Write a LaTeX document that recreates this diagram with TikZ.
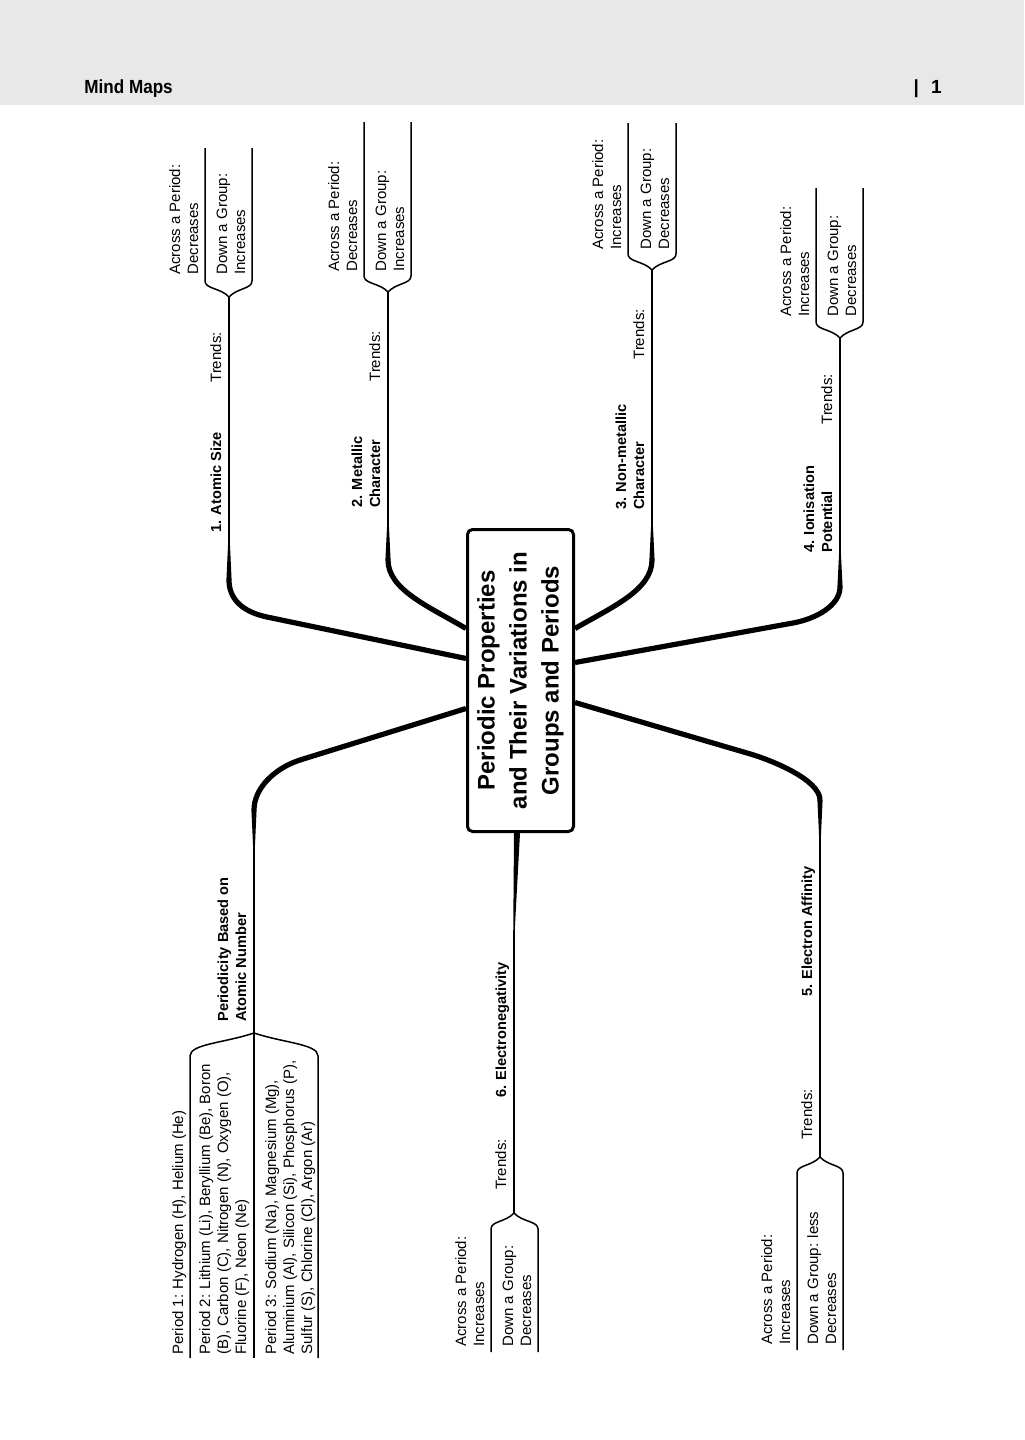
\documentclass[tikz,border=0pt]{standalone}
\usepackage{fontspec}
\usepackage{graphicx}
\setmainfont{Liberation Sans}
\usetikzlibrary{calc}
\definecolor{hdr}{RGB}{232,232,232}
\newcommand\taperv[3]{\fill ($(#1)+(-#3,0)$) -- ($(#2)+(-0.75,0)$) -- ($(#2)+(0.75,0)$) -- ($(#1)+(#3,0)$) -- cycle;}
\begin{document}
\begin{tikzpicture}[x=0.5pt,y=-0.5pt,
  thinl/.style={line width=0.75pt},
  thickl/.style={line width=2.6pt},
  txt/.style={rotate=90, anchor=base west, inner sep=0pt, align=left, font=\fontsize{7.5}{9}\selectfont},
  btxt/.style={txt, font=\fontsize{7.3}{9}\selectfont\bfseries},
  hdtxt/.style={inner sep=0pt, font=\fontsize{9.5}{11}\selectfont\bfseries}]
\useasboundingbox (0,0) rectangle (1024,1440);
% header
\fill[hdr] (0,0) rectangle (1024,105);
\node[hdtxt, anchor=base west] (hd) at (84,93) {\scalebox{0.9}[1]{Mind Maps}};
\node[hdtxt, anchor=base east] (pg) at (942,93) {|\hspace{6pt}1};
% central topic
\node[draw, line width=1.5pt, rounded corners=2.5pt, rotate=90, minimum width=151pt, minimum height=53pt,
  align=center, inner sep=0pt, font=\fontsize{12}{16}\selectfont\bfseries] (title) at (520.5,680.5)
  {Periodic Properties\\and Their Variations in\\Groups and Periods};
% anchor points on the box
\coordinate (b1a) at ($(title.north)+(0,-22)$);
\coordinate (b2a) at ($(title.north)+(0,-52)$);
\coordinate (bpa) at ($(title.north)+(0,28)$);
\coordinate (b3a) at ($(title.south)+(0,-52)$);
\coordinate (b4a) at ($(title.south)+(0,-18)$);
\coordinate (b5a) at ($(title.south)+(0,22)$);
\coordinate (b6a) at ($(title.west)+(-3.5,0)$);
% branch points
\coordinate (b1v) at (229,580); \coordinate (b1t) at (229,540); \coordinate (b1p) at (229,297);
\coordinate (b2v) at (388,560); \coordinate (b2t) at (388,522); \coordinate (b2p) at (388,292);
\coordinate (b3v) at (652,560); \coordinate (b3t) at (652,522); \coordinate (b3p) at (652,270);
\coordinate (b4v) at (840,587); \coordinate (b4t) at (840,550); \coordinate (b4p) at (840,338);
\coordinate (b5v) at (820,800); \coordinate (b5t) at (820,840); \coordinate (b5p) at (820,1157);
\coordinate (bpv) at (254,810); \coordinate (bpt) at (254,850); \coordinate (bpp) at (254,1033);
\coordinate (b6t) at (514,930); \coordinate (b6p) at (514,1213);
% main branches
\draw[thickl] (b1a) -- (267,617) .. controls (241,611.5) and (229,598) .. (b1v);
\taperv{b1v}{b1t}{2.6}
\draw[thinl] (b1t) -- (b1p);
\draw[thickl] (b2a) .. controls (430,607) and (388,590) .. (b2v);
\taperv{b2v}{b2t}{2.6}
\draw[thinl] (b2t) -- (b2p);
\draw[thickl] (b3a) .. controls (612,607) and (652,590) .. (b3v);
\taperv{b3v}{b3t}{2.6}
\draw[thinl] (b3t) -- (b3p);
\draw[thickl] (b4a) -- (793,623) .. controls (815,619) and (840,606) .. (b4v);
\taperv{b4v}{b4t}{2.6}
\draw[thinl] (b4t) -- (b4p);
\draw[thickl] (b5a) -- (747,753) .. controls (772,760) and (820,780) .. (b5v);
\taperv{b5v}{b5t}{2.6}
\draw[thinl] (b5t) -- (b5p);
\draw[thickl] (bpa) -- (300,760) .. controls (275,768) and (254,788) .. (bpv);
\taperv{bpv}{bpt}{2.6}
\draw[thinl] (bpt) -- (bpp);
\taperv{b6a}{b6t}{3}
\draw[thinl] (b6t) -- (b6p);
% brackets (top)
\draw[thinl] (b1p) .. controls +(-8,-9) and +(0,8) .. (205,281) -- (205,148);
\draw[thinl] (b1p) .. controls +(8,-9) and +(0,8) .. (252,281) -- (252,148);
\draw[thinl] (b2p) .. controls +(-8,-9) and +(0,8) .. (364,276) -- (364,122);
\draw[thinl] (b2p) .. controls +(8,-9) and +(0,8) .. (411,276) -- (411,122);
\draw[thinl] (b3p) .. controls +(-8,-9) and +(0,8) .. (628,254) -- (628,123);
\draw[thinl] (b3p) .. controls +(8,-9) and +(0,8) .. (676,254) -- (676,123);
\draw[thinl] (b4p) .. controls +(-8,-9) and +(0,8) .. (816,322) -- (816,188);
\draw[thinl] (b4p) .. controls +(8,-9) and +(0,8) .. (863,322) -- (863,188);
% brackets (bottom)
\draw[thinl] (b5p) .. controls +(-8,9) and +(0,-8) .. (797,1173) -- (797,1350);
\draw[thinl] (b5p) .. controls +(8,9) and +(0,-8) .. (843,1173) -- (843,1350);
\draw[thinl] (b6p) .. controls +(-8,9) and +(0,-8) .. (491,1229) -- (491,1352);
\draw[thinl] (b6p) .. controls +(8,9) and +(0,-8) .. (538,1229) -- (538,1352);
\draw[thinl] (bpp) .. controls +(-30,10) and +(0,-12) .. (190,1056) -- (190,1358);
\draw[thinl] (bpp) .. controls +(30,10) and +(0,-12) .. (318,1056) -- (318,1358);
\draw[thinl] (bpp) -- (254,1358);
% labels branch 1 (multi-line nodes: base = last line)
\node[btxt] (l1) at (221,533) {1. Atomic Size};
\node[txt] (tr1) at (221,383) {Trends:};
\node[txt] (a1) at (198,275) {Across a Period:\\Decreases};
\node[txt] (d1) at (245,275) {Down a Group:\\Increases};
% branch 2
\node[btxt] (l2) at (380,508) {2. Metallic\\Character};
\node[txt] (tr2) at (380,382) {Trends:};
\node[txt] (a2) at (357,272) {Across a Period:\\Decreases};
\node[txt] (d2) at (404,272) {Down a Group:\\Increases};
% branch 3
\node[btxt] (l3) at (644,510) {3. Non-metallic\\Character};
\node[txt] (tr3) at (644,360) {Trends:};
\node[txt] (a3) at (621,250) {Across a Period:\\Increases};
\node[txt] (d3) at (669,250) {Down a Group:\\Decreases};
% branch 4
\node[btxt] (l4) at (832,553) {4. Ionisation\\Potential};
\node[txt] (tr4) at (832,425) {Trends:};
\node[txt] (a4) at (809,317) {Across a Period:\\Increases};
\node[txt] (d4) at (856,317) {Down a Group:\\Decreases};
% periodicity
\node[btxt] (lp) at (246,1022) {Periodicity Based on\\Atomic Number};
\node[txt] (p1) at (183,1355) {Period 1: Hydrogen (H), Helium (He)};
\node[txt] (p2) at (246,1355) {Period 2: Lithium (Li), Beryllium (Be), Boron\\(B), Carbon (C), Nitrogen (N), Oxygen (O),\\Fluorine (F), Neon (Ne)};
\node[txt] (p3) at (312,1355) {Period 3: Sodium (Na), Magnesium (Mg),\\Aluminium (Al), Silicon (Si), Phosphorus (P),\\Sulfur (S), Chlorine (Cl), Argon (Ar)};
% branch 6
\node[btxt] (l6) at (506,1098) {6. Electronegativity};
\node[txt] (tr6) at (506,1190) {Trends:};
\node[txt] (a6) at (484,1347) {Across a Period:\\Increases};
\node[txt] (d6) at (531,1347) {Down a Group:\\Decreases};
% branch 5
\node[btxt] (l5) at (812,997) {5. Electron Affinity};
\node[txt] (tr5) at (812,1140) {Trends:};
\node[txt] (a5) at (790,1345) {Across a Period:\\Increases};
\node[txt] (d5) at (836,1345) {Down a Group: less\\Decreases};
\end{tikzpicture}
\end{document}
